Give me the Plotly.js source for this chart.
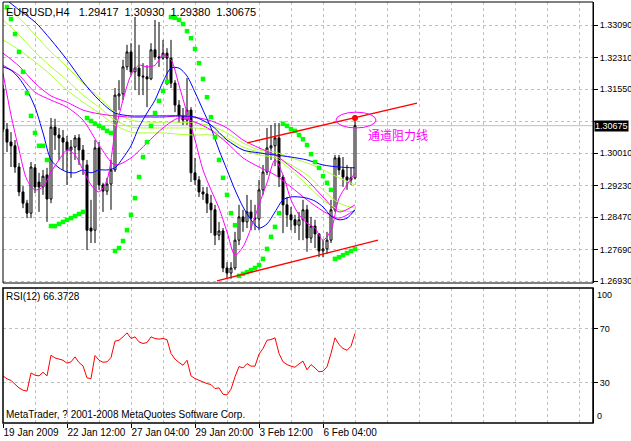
<!DOCTYPE html>
<html><head><meta charset="utf-8">
<script src="https://cdn.plot.ly/plotly-3.0.1.min.js"></script>
<style>html,body{margin:0;padding:0;background:#fff;}</style>
</head><body><div id="chart" style="width:631px;height:441px;"></div>
<script>
// ---- DATA ----
const symbolTitle = "EURUSD,H4\u00A0\u00A0\u00A01.29417\u00A0\u00A01.30930\u00A0\u00A01.29380\u00A0\u00A01.30675";
const rsiTitle = 'RSI(12) 66.3728';
const copyright = 'MetaTrader, ? 2001-2008 MetaQuotes Software Corp.';
const tickBars = [0,16,32,48,64,80];
const tickLabels = ['19 Jan 2009','22 Jan 12:00','27 Jan 04:00','29 Jan 20:00','3 Feb 12:00','6 Feb 04:00'];
const priceTicks = [1.26930,1.27690,1.28470,1.29230,1.30010,1.30770,1.31550,1.32310,1.33090];
const priceTickText = ['1.26930','1.27690','1.28470','1.29230','1.30010','','1.31550','1.32310','1.33090'];

const open = [1.3156,1.3059,1.3028,1.3019,1.2968,1.2908,1.2881,1.2857,1.2966,1.2932,
1.2920,1.2949,1.2891,1.3064,1.3045,1.3038,1.3028,1.3009,1.3016,1.3038,
1.3009,1.2973,1.2821,1.2816,1.3014,1.2925,1.2910,1.2927,1.2961,1.3139,
1.3144,1.3209,1.3245,1.3197,1.3206,1.3187,1.3185,1.3180,1.3250,1.3233,
1.3230,1.3242,1.3230,1.3170,1.3117,1.3091,1.3081,1.3105,1.2954,1.2937,
1.2908,1.2903,1.2881,1.2865,1.2804,1.2814,1.2725,1.2713,1.2725,1.2792,
1.2848,1.2836,1.2860,1.2845,1.2843,1.2913,1.2956,1.3014,1.3019,1.3038,
1.2944,1.2877,1.2853,1.2841,1.2828,1.2841,1.2865,1.2797,1.2826,1.2807,
1.2766,1.2771,1.2792,1.2865,1.2990,1.2961,1.2944,1.2937,1.29417];
const high = [1.3165,1.3074,1.3052,1.3033,1.2978,1.2922,1.2889,1.2980,1.2975,1.2954,
1.2961,1.2966,1.3086,1.3084,1.3062,1.3057,1.3043,1.3033,1.3045,1.3047,
1.3021,1.2985,1.2889,1.3033,1.3028,1.2930,1.2942,1.2985,1.3158,1.3177,
1.3226,1.3262,1.3266,1.3329,1.3262,1.3218,1.3213,1.3266,1.3322,1.3317,
1.3274,1.3254,1.3274,1.3177,1.3129,1.3110,1.3182,1.3112,1.2990,1.2946,
1.2920,1.2920,1.2901,1.2877,1.2836,1.2821,1.2739,1.2739,1.2812,1.2877,
1.2865,1.2901,1.2889,1.2877,1.2937,1.2973,1.3062,1.3069,1.3074,1.3074,
1.2949,1.2896,1.2872,1.2853,1.2860,1.2889,1.2877,1.2848,1.2841,1.2809,
1.2792,1.2812,1.2889,1.2997,1.2997,1.2992,1.2973,1.2966,1.30930];
const low = [1.3052,1.3004,1.2968,1.2954,1.2898,1.2869,1.2845,1.2845,1.2905,1.2860,
1.2901,1.2836,1.2881,1.3009,1.2985,1.2961,1.2925,1.2942,1.2985,1.2973,
1.2949,1.2768,1.2785,1.2785,1.2913,1.2860,1.2901,1.2865,1.2956,1.3105,
1.3129,1.3201,1.3189,1.3153,1.3141,1.3141,1.3112,1.3177,1.3226,1.3209,
1.3226,1.3165,1.3158,1.3100,1.3074,1.3069,1.3069,1.2932,1.2925,1.2896,
1.2889,1.2857,1.2809,1.2780,1.2792,1.2715,1.2701,1.2699,1.2720,1.2780,
1.2812,1.2821,1.2816,1.2816,1.2816,1.2901,1.2949,1.2985,1.2970,1.2920,
1.2809,1.2824,1.2816,1.2809,1.2792,1.2792,1.2764,1.2785,1.2773,1.2751,
1.2751,1.2759,1.2785,1.2860,1.2949,1.2920,1.2913,1.2925,1.29380];
const close = [1.3059,1.3028,1.3019,1.2968,1.2908,1.2881,1.2857,1.2968,1.2920,1.2920,
1.2946,1.2891,1.3064,1.3045,1.3038,1.3028,1.3009,1.3016,1.3038,1.3009,
1.2985,1.2816,1.2814,1.3014,1.2925,1.2910,1.2927,1.2961,1.3141,1.3144,
1.3209,1.3245,1.3197,1.3206,1.3187,1.3185,1.3180,1.3250,1.3233,1.3230,
1.3242,1.3230,1.3170,1.3117,1.3091,1.3081,1.3105,1.2954,1.2937,1.2908,
1.2903,1.2881,1.2865,1.2804,1.2814,1.2725,1.2713,1.2725,1.2792,1.2848,
1.2836,1.2860,1.2845,1.2843,1.2913,1.2956,1.3014,1.3019,1.3038,1.2944,
1.2877,1.2853,1.2841,1.2828,1.2841,1.2865,1.2797,1.2826,1.2807,1.2766,
1.2771,1.2792,1.2865,1.2990,1.2961,1.2944,1.2937,1.2942,1.30675];

// Parabolic SAR (bars 1..88)
const sarBars = [1,2,3,4,5,6,7,8,9,10,11,12,13,14,15,16,17,18,19,20,21,22,23,24,25,26,27,28,29,30,
31,32,33,34,35,36,37,38,39,40,41,42,43,44,45,46,47,48,49,50,51,52,53,54,55,56,57,58,59,60,
61,62,63,64,65,66,67,68,69,70,71,72,73,74,75,76,77,78,79,80,81,82,83,84,85,86,87,88];
const sar = [1.3353,1.3324,1.3288,1.3245,1.3197,1.3146,1.3091,1.3050,1.3019,1.3019,
1.2985,1.2826,1.2826,1.2831,1.2836,1.2841,1.2845,1.2850,1.2855,1.2860,
1.3086,1.3079,1.3072,1.3067,1.3062,1.3055,1.3050,1.2766,1.2773,1.2790,
1.2816,1.2853,1.2893,1.2944,1.2992,1.3028,1.3067,1.3098,1.3127,1.3151,
1.3173,1.3329,1.3327,1.3322,1.3312,1.3295,1.3278,1.3252,1.3218,1.3180,
1.3136,1.3088,1.3040,1.2985,1.2942,1.2901,1.2857,1.2828,1.2706,1.2711,
1.2715,1.2720,1.2725,1.2732,1.2747,1.2771,1.2800,1.2824,1.2857,1.3072,
1.3067,1.3059,1.3055,1.3045,1.3035,1.3021,1.2999,1.2980,1.2966,1.2946,
1.2930,1.2913,1.2747,1.2751,1.2756,1.2761,1.2766,1.2771];

// Moving averages
const maBars = [0,4,8,12,16,20,24,28,32,36,40,44,48,52,56,60,64,68,72,76,80,84,88];
const blueSlow = [1.3377,1.3346,1.3317,1.3274,1.3226,1.3173,1.3129,1.3098,1.3091,1.3091,1.3091,1.3091,1.3088,1.3069,1.3033,1.3009,1.3002,1.2997,1.2992,1.2985,1.2973,1.2968,1.2966];
const yg1 = [1.3351,1.3327,1.3286,1.3245,1.3209,1.3170,1.3136,1.3100,1.3081,1.3076,1.3076,1.3076,1.3074,1.3067,1.3050,1.3026,1.3009,1.3004,1.2990,1.2978,1.2961,1.2942,1.2925];
const yg2 = [1.3322,1.3286,1.3245,1.3209,1.3177,1.3141,1.3112,1.3081,1.3064,1.3062,1.3062,1.3062,1.3062,1.3057,1.3038,1.3016,1.3004,1.2994,1.2973,1.2949,1.2913,1.2881,1.2869];
const yg3 = [1.3274,1.3250,1.3221,1.3189,1.3153,1.3124,1.3098,1.3069,1.3052,1.3050,1.3050,1.3047,1.3045,1.3045,1.3033,1.3009,1.2997,1.2990,1.2961,1.2925,1.2889,1.2865,1.2860];
const magA = [1.3213,1.3189,1.3148,1.3129,1.3112,1.3081,1.3021,1.2973,1.2990,1.3026,1.3062,1.3086,1.3076,1.3057,1.3026,1.2990,1.2968,1.2949,1.2920,1.2889,1.2862,1.2845,1.2865];
const magB = [1.3242,1.3211,1.3170,1.3139,1.3124,1.3105,1.3096,1.3091,1.3088,1.3088,1.3088,1.3091,1.3088,1.3079,1.3062,1.3033,1.3014,1.2997,1.2968,1.2937,1.2896,1.2860,1.2877];
const fastBars = [0,2,4,6,8,10,12,14,16,18,20,22,24,26,28,30,32,34,36,38,40,42,44,46,48,50,52,54,56,58,60,62,64,66,68,70,72,74,76,78,80,82,84,86,88];
const blueFast = [1.3209,1.3201,1.3182,1.3153,1.3112,1.3050,1.2985,1.2966,1.2956,1.2954,1.2961,1.2954,1.2961,1.2961,1.2966,1.2990,1.3019,1.3064,1.3098,1.3129,1.3173,1.3206,1.3206,1.3187,1.3148,1.3105,1.3062,1.3009,1.2961,1.2913,1.2872,1.2841,1.2821,1.2831,1.2860,1.2889,1.2896,1.2896,1.2893,1.2886,1.2872,1.2850,1.2841,1.2845,1.2865];
const magFast = [1.3194,1.3093,1.3009,1.2937,1.2913,1.2920,1.2956,1.2985,1.3009,1.2997,1.2961,1.2925,1.2908,1.2937,1.3050,1.3129,1.3189,1.3213,1.3209,1.3213,1.3238,1.3226,1.3165,1.3098,1.3033,1.2961,1.2913,1.2869,1.2812,1.2756,1.2776,1.2821,1.2877,1.2930,1.2985,1.2949,1.2889,1.2853,1.2833,1.2821,1.2792,1.2816,1.2893,1.2925,1.2954];

// RSI(12)
const rsi = [34.9,32.7,31.5,29.0,26.0,24.3,23.6,37.1,35.4,34.9,
37.6,34.9,50.2,48.2,47.5,46.5,44.3,45.3,49.0,44.8,
42.3,33.4,32.9,50.0,46.5,45.0,45.3,48.5,60.6,61.3,
63.8,66.8,62.6,63.8,60.1,58.9,59.6,63.8,62.6,62.1,
62.6,61.8,51.5,47.3,44.8,42.8,46.5,34.9,32.9,31.5,
30.2,29.2,28.5,25.5,26.0,21.3,20.8,25.0,34.2,41.8,
40.8,44.0,42.1,42.1,51.0,55.2,61.3,61.8,63.1,51.5,
45.3,43.3,42.1,41.3,43.8,45.8,39.4,43.3,40.8,37.9,
38.4,41.6,51.5,63.1,58.1,55.2,53.9,56.9,66.3728];
const rsiLevels = [30,70];

// channel drawing objects
const upperBars = [61,103.5], upperPrices = [1.3026,1.3122];
const lowerBars = [53.5,93.75], lowerPrices = [1.2694,1.2792];
const markBar = [88], markPrice = [1.3086];
const ellipseBars = [83.25,93.25], ellipsePrices = [1.3062,1.3100];
const channelNote = '通道阻力线', noteBar = 98.75, notePrice = 1.3046;

// ---- DRAW ----
const bars = open.map((_, i) => i);
const FONT = '"Liberation Sans",Arial,sans-serif';
const GRID = '#c0c0c0';
const lastPrice = close[close.length - 1];

function line(xs, ys, color) {
  return {type:'scatter', mode:'lines', x:xs, y:ys, xaxis:'x', yaxis:'y',
    line:{color:color, width:1, shape:'spline', smoothing:0.8}, hoverinfo:'skip'};
}

const traces = [
  {type:'candlestick', x:bars, open:open, high:high, low:low, close:close, xaxis:'x', yaxis:'y',
   increasing:{line:{color:'#000', width:1}, fillcolor:'#fff'},
   decreasing:{line:{color:'#000', width:1}, fillcolor:'#000'},
   whiskerwidth:0, hoverinfo:'skip'},
  line(maBars, yg1, '#adff2f'),
  line(maBars, yg2, '#adff2f'),
  line(maBars, yg3, '#adff2f'),
  line(maBars, magB, '#ff00ff'),
  line(maBars, magA, '#ff00ff'),
  line(maBars, blueSlow, '#0000ff'),
  line(fastBars, blueFast, '#0000ff'),
  line(fastBars, magFast, '#ff00ff'),
  {type:'scatter', mode:'markers', x:sarBars, y:sar, xaxis:'x', yaxis:'y',
   marker:{symbol:'square', size:4.5, color:'#00ff00'}, hoverinfo:'skip'},
  {type:'scatter', mode:'markers', x:markBar, y:markPrice, xaxis:'x', yaxis:'y',
   marker:{symbol:'circle', size:6, color:'#ff0000'}, hoverinfo:'skip'},
  {type:'scatter', mode:'lines', x:bars, y:rsi, xaxis:'x', yaxis:'y2',
   line:{color:'#ff0000', width:1}, hoverinfo:'skip'}
];

const mainDom = [140/421, 1];
const rsiDom = [0, 135/421];
const tickFontY = {family:FONT, size:9, color:'#000'};

const layout = {
  width:631, height:441,
  margin:{l:3, r:38, t:2, b:18, pad:0},
  paper_bgcolor:'#fff', plot_bgcolor:'#fff',
  showlegend:false, dragmode:false,
  font:{family:FONT, size:10, color:'#000'},
  xaxis:{domain:[0,1], anchor:'y2', range:[0,147.5], fixedrange:true,
    tickmode:'array', tickvals:tickBars, ticktext:tickLabels, tickangle:0,
    ticks:'outside', ticklen:4, tickcolor:'#000', ticklabelposition:'outside right',
    showgrid:true, gridcolor:GRID, griddash:'3px,3px', gridwidth:1,
    minor:{tick0:0, dtick:8, showgrid:true, gridcolor:GRID, griddash:'3px,3px', gridwidth:1, ticks:''},
    zeroline:false, showline:false, rangeslider:{visible:false},
    tickfont:{family:FONT, size:10, color:'#000'}},
  yaxis:{domain:mainDom, anchor:'x', side:'right', range:[1.26889,1.33651], fixedrange:true,
    tickmode:'array', tickvals:priceTicks, ticktext:priceTickText,
    ticks:'outside', ticklen:4, tickcolor:'#000',
    showgrid:true, gridcolor:GRID, griddash:'3px,3px', gridwidth:1,
    zeroline:false, showline:true, linecolor:'#000', linewidth:1,
    tickfont:tickFontY},
  yaxis2:{domain:rsiDom, anchor:'x', side:'right', range:[0,100], fixedrange:true,
    tickmode:'array', tickvals:rsiLevels, ticktext:rsiLevels.map(String),
    ticks:'outside', ticklen:4, tickcolor:'#000',
    showgrid:true, gridcolor:GRID, griddash:'3px,3px', gridwidth:1,
    zeroline:false, showline:true, linecolor:'#000', linewidth:1,
    tickfont:tickFontY},
  shapes:[
    {type:'line', xref:'paper', yref:'y', x0:0, x1:1, y0:lastPrice, y1:lastPrice, line:{color:GRID, width:1}, layer:'below'},
    {type:'line', xref:'x', yref:'y', x0:upperBars[0], x1:upperBars[1], y0:upperPrices[0], y1:upperPrices[1], line:{color:'#ff0000', width:1.3}},
    {type:'line', xref:'x', yref:'y', x0:lowerBars[0], x1:lowerBars[1], y0:lowerPrices[0], y1:lowerPrices[1], line:{color:'#ff0000', width:1.3}},
    {type:'circle', xref:'x', yref:'y', x0:ellipseBars[0], x1:ellipseBars[1], y0:ellipsePrices[0], y1:ellipsePrices[1], line:{color:'#ff00ff', width:1}},
    {type:'rect', xref:'paper', yref:'paper', x0:0, x1:1, y0:mainDom[0], y1:mainDom[1], line:{color:'#000', width:1}},
    {type:'rect', xref:'paper', yref:'paper', x0:0, x1:1, y0:rsiDom[0], y1:rsiDom[1], line:{color:'#000', width:1.5}}
  ],
  annotations:[
    {xref:'paper', yref:'paper', x:0, y:1, xanchor:'left', yanchor:'top', xshift:1, yshift:-2,
     text:symbolTitle, showarrow:false, font:{family:FONT, size:11, color:'#000'}},
    {xref:'paper', yref:'y2', x:0, y:100, xanchor:'left', yanchor:'top', xshift:1, yshift:-1,
     text:rsiTitle, showarrow:false, font:{family:FONT, size:10, color:'#000'}},
    {xref:'paper', yref:'y2', x:0, y:0, xanchor:'left', yanchor:'bottom', xshift:1, yshift:1,
     text:copyright, showarrow:false, font:{family:FONT, size:10, color:'#000'}},
    {xref:'x', yref:'y', x:noteBar, y:notePrice, xanchor:'center', yanchor:'middle',
     text:channelNote, showarrow:false, font:{family:'"Noto Sans CJK SC"', size:12, color:'#ff00ff'}},
    {xref:'paper', yref:'y', x:1, y:lastPrice, xanchor:'left', yanchor:'middle', xshift:1,
     text:lastPrice.toFixed(5), showarrow:false, bgcolor:'#000', borderpad:0,
     font:{family:FONT, size:9, color:'#fff'}},
    {xref:'paper', yref:'y2', x:1, y:100, xanchor:'left', yanchor:'top', xshift:2,
     text:'100', showarrow:false, font:tickFontY},
    {xref:'paper', yref:'y2', x:1, y:0, xanchor:'left', yanchor:'bottom', xshift:2,
     text:'0', showarrow:false, font:tickFontY}
  ]
};

Plotly.newPlot('chart', traces, layout, {staticPlot:true, displayModeBar:false});
</script></body></html>
